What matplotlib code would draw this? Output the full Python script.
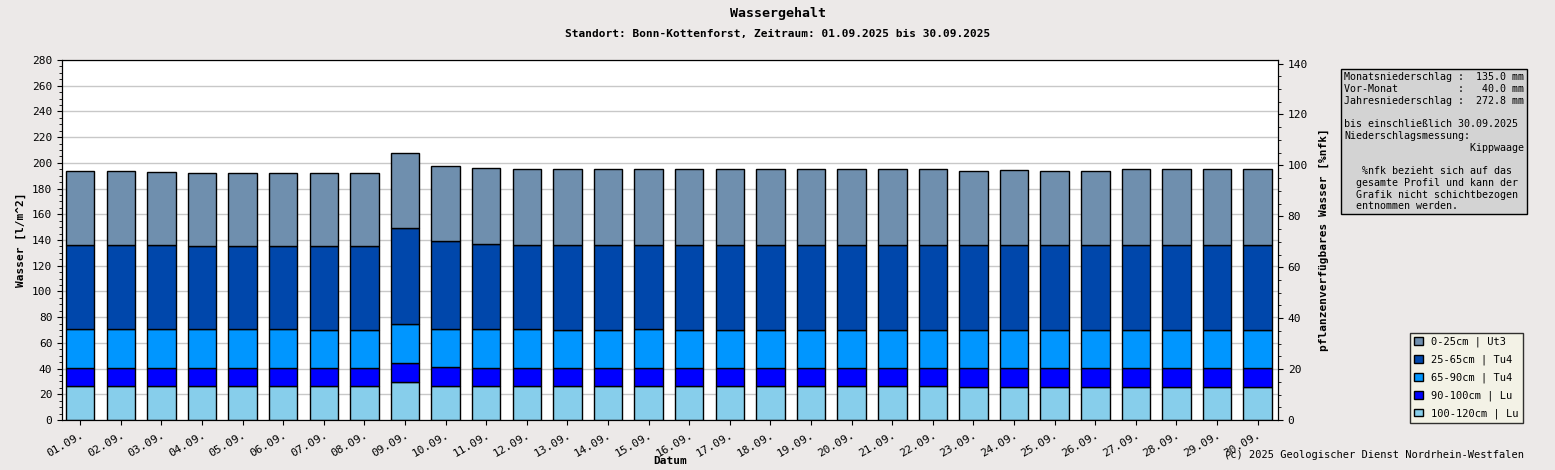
import matplotlib
matplotlib.use("Agg")
import matplotlib.pyplot as plt
import numpy as np

plt.rcParams['font.family'] = ['DejaVu Sans Mono']

days = [f"{d:02d}.09." for d in range(1, 31)]
top_total = [194,194,193,192,192,192,192,192,207.7,197.5,196,195.5,195.5,195.5,195,195,195,195,195,195,195,195,194,194.5,194,194,195,195,195,195]
top_2565 = [136,136,136,135,135,135,135,135,149.3,139,136.6,136.5,136.5,136,136,136,136,136,136,136,136,136,136,136,136,136,136,136,136,136]
top_6590 = [70.5,70.5,70.5,70.5,70.5,70.5,70,70,74.7,70.8,70.8,70.5,70,70,70.5,70,70,70,70,70,70,70,70,70,70,70,70,70,70,70]
top_90100 = [40.4,40.4,40.4,40.4,40.4,40.4,40.4,40.4,44.3,41,40.4,40.4,40.4,40.4,40.4,40.4,40.4,40.4,40.4,40.4,40.4,40.4,40.4,40.4,40.4,40.4,40.4,40.4,40.4,40.4]
top_100120 = [26.5,26.5,26.5,26.5,26.5,26.5,26.5,26.5,29.5,26.5,26.5,26.5,26.5,26.5,26.5,26.5,26.5,26.5,26.5,26.5,26.5,26.5,26,26,26,26,26,26,26,26]

tops = [top_100120, top_90100, top_6590, top_2565, top_total]
labels = ["100-120cm | Lu", "90-100cm | Lu", "65-90cm | Tu4", "25-65cm | Tu4", "0-25cm | Ut3"]
colors = ["#87ceeb", "#0000ff", "#0096ff", "#0047ab", "#6f8fae"]

bg = "#ece9e8"
fig = plt.figure(figsize=(15.55, 4.7), dpi=100, facecolor=bg)
ax = fig.add_axes([62/1555, 50/470, (1278-62)/1555, 360/470])
ax.set_facecolor("white")
x = np.arange(30)
handles = []
prev = np.zeros(30)
for t, lab, c in zip(tops, labels, colors):
    t = np.array(t, dtype=float)
    h = ax.bar(x, t - prev, bottom=prev, width=0.7, color=c, edgecolor="black", linewidth=1, label=lab, zorder=3)
    handles.append(h)
    prev = t
ax.set_xlim(-0.45, 29.5)
ax.set_ylim(0, 280)
ax.set_yticks(np.arange(0, 281, 20))
ax.set_yticks(np.arange(0, 281, 5), minor=True)
ax.grid(axis='y', color="#c8c8c8", linewidth=1, zorder=0)
ax.set_xticks(x)
ax.set_xticklabels(days, rotation=30, ha='right', fontsize=8, rotation_mode='anchor')
ax.tick_params(axis='y', labelsize=8)
ax.set_ylabel("Wasser [l/m^2]", fontsize=8, fontweight='bold')
ax.set_xlabel("Datum", fontsize=8, fontweight='bold', labelpad=-2)
ax2 = ax.twinx()
ax2.set_ylim(0, 141.4)
ax2.set_yticks(np.arange(0, 141, 20))
ax2.set_yticks(np.arange(0, 141, 5), minor=True)
ax2.tick_params(axis='y', labelsize=8)
ax2.set_ylabel("pflanzenverfügbares Wasser [%nfk]", fontsize=8, fontweight='bold', labelpad=8)

fig.text(0.5, 1-14/470, "Wassergehalt", ha='center', va='center', fontsize=9.5, fontweight='bold')
fig.text(0.5, 1-34/470, "Standort: Bonn-Kottenforst, Zeitraum: 01.09.2025 bis 30.09.2025", ha='center', va='center', fontsize=8, fontweight='bold')
fig.text(1524/1555, 1-455/470, "(c) 2025 Geologischer Dienst Nordrhein-Westfalen", ha='right', va='center', fontsize=7.5)

info = ("Monatsniederschlag :  135.0 mm\nVor-Monat          :   40.0 mm\nJahresniederschlag :  272.8 mm\n\n"
        "bis einschließlich 30.09.2025\nNiederschlagsmessung:\n                     Kippwaage\n\n"
        "   %nfk bezieht sich auf das\n  gesamte Profil und kann der\n  Grafik nicht schichtbezogen\n  entnommen werden.")
fig.text(1344/1555, 1-72/470, info, ha='left', va='top', fontsize=7.2, linespacing=1.22,
         bbox=dict(boxstyle='square,pad=0.3', facecolor='#d3d3d3', edgecolor='black'))

leg = fig.legend(handles[::-1], labels[::-1], loc='lower right', bbox_to_anchor=(1528/1555, 1-428/470),
                 fontsize=7.5, frameon=True, fancybox=False, edgecolor='black', facecolor='#f5f5e6',
                 handlelength=0.8, handleheight=0.8, labelspacing=0.7)
leg.get_frame().set_linewidth(1)
fig.savefig("out.png", dpi=100, facecolor=bg)
